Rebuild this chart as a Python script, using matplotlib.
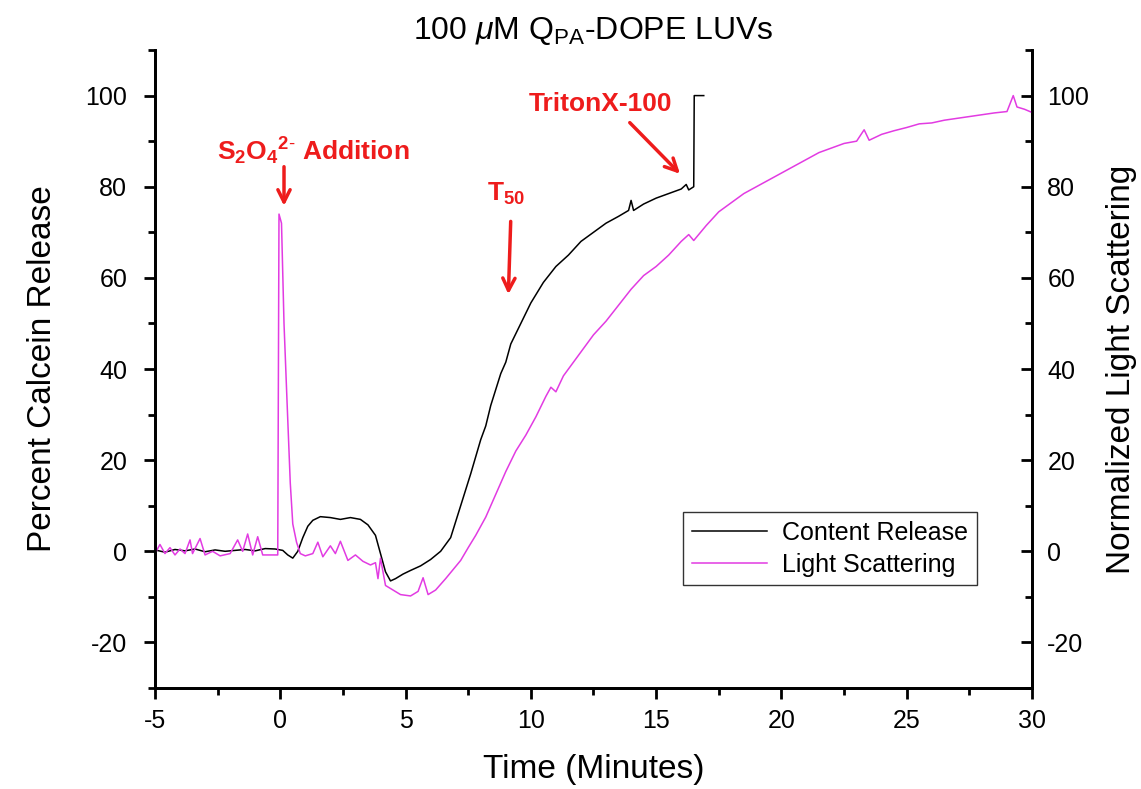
import matplotlib
matplotlib.use("Agg")
import matplotlib.pyplot as plt
from matplotlib.ticker import MultipleLocator

plt.rcParams['font.family'] = ['Liberation Sans', 'DejaVu Sans']
plt.rcParams['axes.unicode_minus'] = False
plt.rcParams['mathtext.fontset'] = 'custom'
plt.rcParams['mathtext.rm'] = 'Liberation Sans'
plt.rcParams['mathtext.it'] = 'Liberation Sans:italic'
plt.rcParams['mathtext.bf'] = 'Liberation Sans:bold'

# content release (black), minutes vs percent
cr_t = [-5, -4.6, -4.2, -3.8, -3.4, -3.0, -2.6, -2.2, -1.8, -1.4, -1.0, -0.6, -0.2,
        0.1, 0.3, 0.5, 0.7, 0.9, 1.1, 1.3, 1.6, 2.0, 2.4, 2.8, 3.2, 3.5, 3.8, 4.0,
        4.2, 4.4, 4.6, 4.9, 5.2, 5.6, 6.0, 6.4, 6.8, 7.2, 7.6, 8.0, 8.2, 8.4, 8.8, 9.0,
        9.2, 9.6, 10.0, 10.5, 11.0, 11.5, 12.0, 12.5, 13.0, 13.5, 13.9, 14.0, 14.1, 14.5,
        15.0, 15.5, 16.0, 16.2, 16.3, 16.5, 16.52, 16.9]
cr_y = [0.3, -0.2, 0.4, 0.1, 0.5, -0.1, 0.3, 0.0, 0.2, 0.4, 0.1, 0.6, 0.5,
        0.2, -0.8, -1.5, 0.0, 3.0, 5.5, 6.8, 7.6, 7.4, 7.0, 7.4, 7.0, 5.8, 3.5, -0.5,
        -4.5, -6.5, -6.0, -5.0, -4.2, -3.2, -1.8, 0.0, 3.0, 10.0, 17.0, 24.5, 27.5, 32, 39, 41.5,
        45.5, 50, 54.5, 59, 62.5, 65, 68, 70, 72, 73.5, 74.8, 77, 74.8, 76.2,
        77.5, 78.5, 79.5, 80.5, 79.3, 80, 100, 100]

# light scattering (magenta), normalized
ls_t = [-5, -4.8, -4.6, -4.4, -4.2, -4.0, -3.8, -3.6, -3.5, -3.2, -3.0, -2.7, -2.4,
        -2.0, -1.7, -1.5, -1.3, -1.1, -0.9, -0.7, -0.3, -0.1, -0.05, 0.05, 0.15, 0.27,
        0.4, 0.5, 0.65, 0.8, 1.0, 1.3, 1.5, 1.7, 2.0, 2.2, 2.4, 2.7, 3.0, 3.3, 3.6,
        3.8, 3.9, 4.0, 4.2, 4.5, 4.8, 5.2, 5.5, 5.7, 5.9, 6.2, 6.6, 6.9, 7.2, 7.5,
        7.8, 8.2, 8.6, 9.0, 9.4, 9.8, 10.2, 10.6, 10.8, 11.0, 11.3, 11.7, 12.1, 12.5,
        13.0, 13.5, 14.0, 14.5, 15.0, 15.5, 16.0, 16.3, 16.5, 17.0, 17.5, 18.0, 18.5,
        19.0, 19.5, 20.0, 20.5, 21.0, 21.5, 22.0, 22.5, 23.0, 23.3, 23.5, 24.0, 24.5,
        25.0, 25.5, 26.0, 26.5, 27.0, 27.5, 28.0, 28.5, 29.0, 29.25, 29.4, 29.7, 30.0]
ls_y = [-0.5, 1.5, -0.5, 0.8, -0.8, 0.5, -0.5, 2.5, -0.5, 2.8, -0.8, 0.0, -1.0,
        -0.5, 2.5, 0.0, 3.8, -0.8, 3.2, -0.8, -0.8, -0.8, 74, 72, 50, 33,
        15, 6, 2, -0.5, -1.0, -0.5, 2.0, -1.2, 1.2, -0.5, 2.2, -2.0, -0.8, -2.2, -3.0,
        -2.5, -6.0, -1.5, -7.5, -8.5, -9.5, -9.8, -8.8, -5.8, -9.5, -8.5, -6.0, -4.0, -2.0, 0.8,
        3.5, 7.5, 12.5, 17.5, 22, 25.5, 29.5, 34, 36, 35, 38.5, 41.5, 44.5, 47.5,
        50.5, 54, 57.5, 60.5, 62.5, 65, 68, 69.5, 68.2, 71.5, 74.5, 76.5, 78.5,
        80, 81.5, 83, 84.5, 86, 87.5, 88.5, 89.5, 90, 92.5, 90.2, 91.5, 92.3,
        93, 93.8, 94, 94.6, 95, 95.4, 95.8, 96.2, 96.5, 100, 97.5, 97, 96.3]

fig = plt.figure(figsize=(11.41, 7.89), dpi=100)
ax = fig.add_axes([0.1358, 0.128, 0.7687, 0.8086])
ax2 = ax.twinx()

l1, = ax.plot(cr_t, cr_y, color='black', lw=1.1, label='Content Release')
l2, = ax2.plot(ls_t, ls_y, color='#e23be2', lw=1.1, label='Light Scattering')

for a in (ax, ax2):
    a.set_xlim(-5, 30)
    a.set_ylim(-30, 110)
    a.yaxis.set_major_locator(MultipleLocator(20))
    a.yaxis.set_minor_locator(MultipleLocator(10))
    for s in a.spines.values():
        s.set_linewidth(2)
    a.spines['top'].set_visible(False)

ax.xaxis.set_major_locator(MultipleLocator(5))
ax.xaxis.set_minor_locator(MultipleLocator(2.5))
ax.tick_params(axis='both', which='major', direction='out', length=8, width=2,
               labelsize=18, right=False)
ax.tick_params(axis='both', which='minor', direction='out', length=5, width=2, right=False)
ax.tick_params(axis='y', which='major', pad=12)
ax.tick_params(axis='x', which='major', pad=7)
ax2.tick_params(axis='y', which='major', direction='in', length=8, width=2,
                labelsize=18, pad=11)
ax2.tick_params(axis='y', which='minor', direction='in', length=5, width=2)

ax.set_xlabel('Time (Minutes)', fontsize=24, labelpad=15)
ax.set_ylabel('Percent Calcein Release', fontsize=24, labelpad=20)
ax2.set_ylabel('Normalized Light Scattering', fontsize=24, labelpad=12)
ax.set_title(r'100 $\mathit{\mu}$M Q$_{\mathrm{PA}}$-DOPE LUVs', fontsize=23, pad=8)

leg = ax.legend(handles=[l1, l2], loc='lower right', bbox_to_anchor=(0.937, 0.161),
                borderaxespad=0, fontsize=18, frameon=True, fancybox=False,
                handlelength=3.0, borderpad=0.35, labelspacing=0.3, handletextpad=0.6)
leg.get_frame().set_edgecolor('black')
leg.get_frame().set_linewidth(1)

red = '#ee1c1c'
arrow = dict(arrowstyle='->', color=red, lw=2.5, mutation_scale=22)
ax.annotate('', xy=(0.15, 75.2), xytext=(0.15, 85), arrowprops=arrow)
ax.annotate('', xy=(9.1, 55.8), xytext=(9.2, 73), arrowprops=arrow)
ax.annotate('', xy=(16.03, 82.4), xytext=(13.87, 94.5), arrowprops=arrow)

ax.text(1.3, 87.7, r'S$_\mathbf{2}$O$_\mathbf{4}$$^{\mathbf{2\text{-}}}$ Addition', color=red,
        fontsize=19, fontweight='bold', ha='center', va='center')
ax.text(9.0, 78.5, r'T$_{\mathbf{50}}$', color=red, fontsize=19, fontweight='bold',
        ha='center', va='center')
ax.text(12.76, 98.2, 'TritonX-100', color=red, fontsize=19, fontweight='bold',
        ha='center', va='center')

fig.savefig('out.png', dpi=100)
